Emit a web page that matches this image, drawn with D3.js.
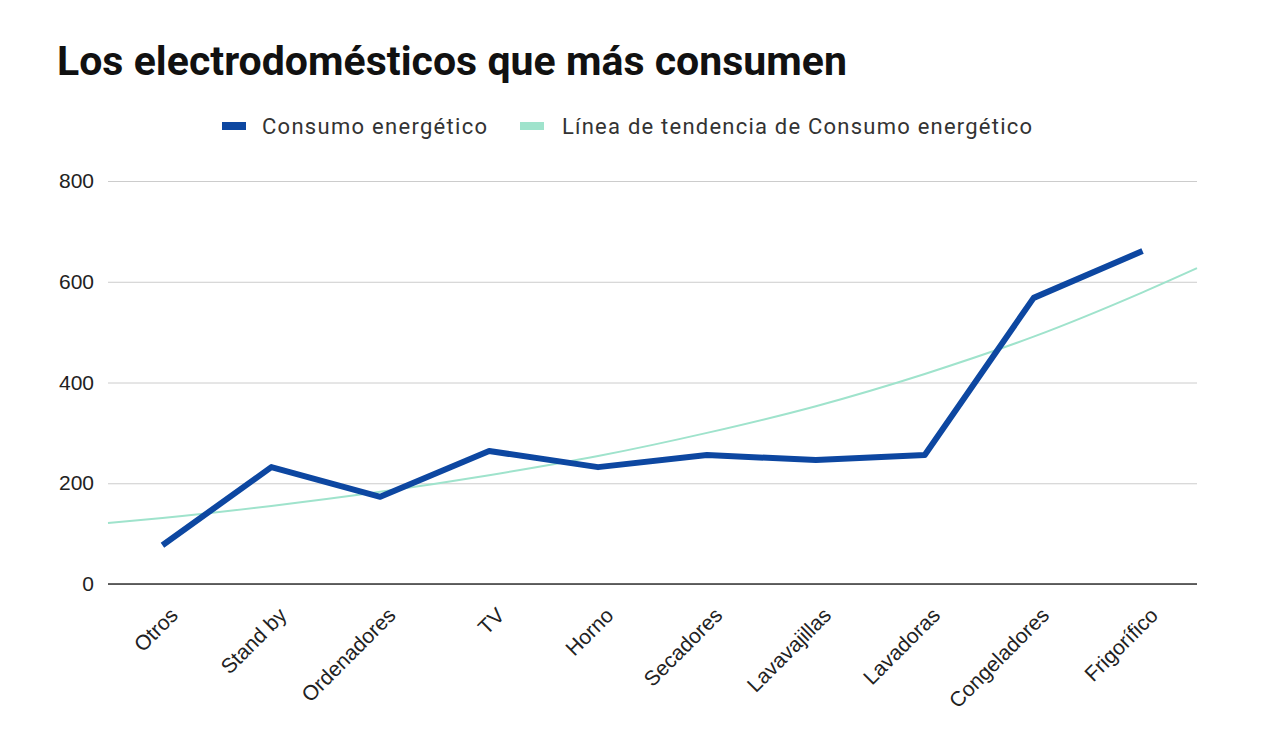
<!DOCTYPE html>
<html>
<head>
<meta charset="utf-8">
<script src="https://cdn.jsdelivr.net/npm/d3@7"></script>
<style>
  body { margin: 0; background: #fff; font-family: Roboto, sans-serif; }
  .axis text { font-size: 21px; fill: #222; }
</style>
</head>
<body>
<div class="root"></div>
<script>
const categories = ['Otros', 'Stand by', 'Ordenadores', 'TV', 'Horno', 'Secadores', 'Lavavajillas', 'Lavadoras', 'Congeladores', 'Frigorífico'];
const consumo = [77, 232, 173, 264, 232, 256, 246, 256, 568, 661];
// trend line, positions in category index units (edges at -0.5 / 9.5)
const trendIdx = [-0.5, 0, 1, 2, 3, 4, 5, 6, 7, 8, 9, 9.5];
const trendVal = [121, 131, 155, 183, 216, 254, 300, 353, 417, 491, 579, 627];
const yTicks = [0, 200, 400, 600, 800];

const svgWidth = 1264, svgHeight = 756;
const margin = { top: 181, right: 67, bottom: 172, left: 108 };
const width = svgWidth - margin.left - margin.right;
const height = svgHeight - margin.top - margin.bottom;

const svg = d3.select('.root').append('svg')
  .attr('width', svgWidth).attr('height', svgHeight);

svg.append('text')
  .attr('x', 57).attr('y', 75)
  .style('font-size', '41px').style('font-weight', 'bold').attr('fill', '#111')
  .attr('textLength', 790)
  .text('Los electrodomésticos que más consumen');

// legend
const legend = svg.append('g').attr('transform', 'translate(222,126)');
legend.append('rect').attr('x', 0).attr('y', -4).attr('width', 24).attr('height', 8).attr('fill', '#0d47a1');
legend.append('text').attr('x', 40).attr('y', 8).style('font-size', '22px').attr('fill', '#333')
  .attr('textLength', 225).text('Consumo energético');
legend.append('rect').attr('x', 298).attr('y', -4).attr('width', 24).attr('height', 8).attr('fill', '#9fe3cc');
legend.append('text').attr('x', 340).attr('y', 8).style('font-size', '22px').attr('fill', '#333')
  .attr('textLength', 470).text('Línea de tendencia de Consumo energético');

const g = svg.append('g').attr('transform', `translate(${margin.left},${margin.top})`);

const x = d3.scaleBand().domain(categories).range([0, width]);
const xi = d3.scaleLinear().domain([-0.5, categories.length - 0.5]).range([0, width]);
const y = d3.scaleLinear().domain([0, 800]).range([height, 0]);

g.append('g').attr('class', 'axis')
  .call(d3.axisLeft(y).tickValues(yTicks).tickSize(-width).tickPadding(14))
  .call(a => a.select('.domain').remove())
  .call(a => a.selectAll('.tick line').attr('stroke', '#ccc'))
  .call(a => a.selectAll('.tick text').attr('x', -14));

g.append('line').attr('x1', 0).attr('x2', width).attr('y1', y(0)).attr('y2', y(0))
  .attr('stroke', '#333').attr('stroke-width', 1.5);

g.append('g').attr('class', 'axis')
  .attr('transform', `translate(0,${height})`)
  .call(d3.axisBottom(x).tickSize(0))
  .call(a => a.select('.domain').remove())
  .selectAll('text')
  .attr('text-anchor', 'end')
  .attr('transform', 'translate(4,20) rotate(-45)')
  .attr('dy', '0.71em');

const trend = d3.line().curve(d3.curveMonotoneX)
  .x((d, i) => xi(trendIdx[i])).y(d => y(d));
g.append('path').attr('d', trend(trendVal))
  .attr('fill', 'none').attr('stroke', '#9fe3cc').attr('stroke-width', 2);

const line = d3.line().x((d, i) => x(categories[i]) + x.bandwidth() / 2).y(d => y(d));
g.append('path').attr('d', line(consumo))
  .attr('fill', 'none').attr('stroke', '#0d47a1').attr('stroke-width', 6)
  .attr('stroke-linejoin', 'round');
</script>
</body>
</html>
